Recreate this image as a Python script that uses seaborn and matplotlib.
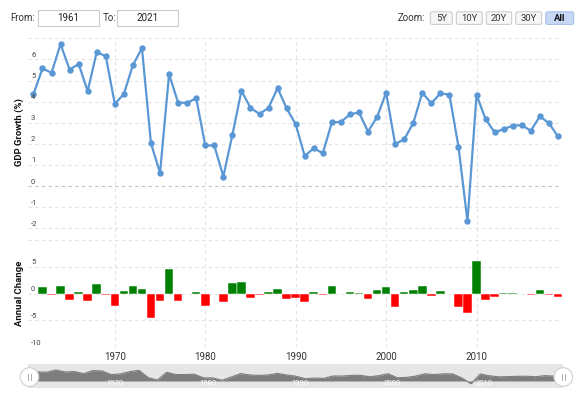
import numpy as np
import pandas as pd
import matplotlib
matplotlib.use("Agg")
import matplotlib.pyplot as plt
import seaborn as sns
from matplotlib.patches import FancyBboxPatch, Circle, Rectangle
from matplotlib.transforms import blended_transform_factory, offset_copy

# ---------------- data ----------------
years = list(range(1961, 2020))
gdp_growth = [4.34, 5.57, 5.37, 6.72, 5.52, 5.78, 4.50, 6.35, 6.15, 3.89,
              4.36, 5.73, 6.53, 2.02, 0.62, 5.30, 3.95, 3.94, 4.16, 1.92,
              1.92, 0.45, 2.42, 4.51, 3.71, 3.41, 3.71, 4.64, 3.68, 2.93,
              1.42, 1.79, 1.55, 3.02, 3.04, 3.39, 3.49, 2.58, 3.27, 4.42,
              1.99, 2.21, 2.98, 4.42, 3.92, 4.39, 4.33, 1.87, -1.68, 4.33,
              3.16, 2.55, 2.69, 2.86, 2.88, 2.62, 3.30, 2.98, 2.35]
change_years = list(range(1962, 2020))
annual_change = [1.23, -0.20, 1.35, -1.20, 0.26, -1.28, 1.85, -0.20, -2.26, 0.47,
                 1.37, 0.80, -4.51, -1.40, 4.68, -1.35, -0.01, 0.22, -2.24, 0.02,
                 -1.47, 1.97, 2.09, -0.80, -0.30, 0.30, 0.93, -0.96, -0.75, -1.51,
                 0.37, -0.24, 1.47, 0.02, 0.35, 0.10, -0.91, 0.69, 1.15, -2.43,
                 0.22, 0.77, 1.44, -0.50, 0.47, -0.06, -2.46, -3.55, 6.01, -1.17,
                 -0.61, 0.14, 0.17, 0.02, -0.26, 0.68, -0.32, -0.63]
direction = ["up" if v >= 0 else "down" for v in annual_change]

decades = [1970, 1980, 1990, 2000, 2010]
decade_labels = ["1970", "1980", "1990", "2000", "2010"]
gdp_ticks = [-2, -1, 0, 1, 2, 3, 4, 5, 6]
gdp_grid = [-2, -1, 0, 1, 2, 3, 4, 5, 6, 7]
chg_ticks = [-10, -5, 0, 5]
chg_grid = [-10, -5, 0, 5, 10]
zoom_buttons = ["5Y", "10Y", "20Y", "30Y", "All"]
from_year, to_year = "1961", "2021"

# ---------------- style ----------------
sns.set_theme(style="white")
plt.rcParams["font.family"] = ["Roboto", "DejaVu Sans"]

LINE = "#5a97d5"
GRID = "#e3e3e3"
TXT = "#333333"

W, H = 587, 393
fig = plt.figure(figsize=(W / 100, H / 100), dpi=100)


def rect(l, t, r, b):
    return [l / W, 1 - b / H, (r - l) / W, (b - t) / H]


ax1 = fig.add_axes(rect(28, 38.3, 562, 238))
ax2 = fig.add_axes(rect(28, 240, 562, 347.3))
ax3 = fig.add_axes(rect(28.3, 364, 563.3, 388))
ov = fig.add_axes([0, 0, 1, 1])
ov.set_xlim(0, W)
ov.set_ylim(H, 0)
ov.axis("off")
ov.set_zorder(10)

XLIM = (1960.4, 2019.45)

# ---------------- top panel ----------------
df = pd.DataFrame({"year": years, "gdp": gdp_growth})
for v in gdp_grid:
    ax1.axhline(v, color="#c4c4c4" if v == 0 else GRID, lw=0.8, ls=(0, (3, 3)), zorder=0)
for d in decades:
    ax1.axvline(d, color=GRID, lw=0.8, ls=(0, (3, 3)), zorder=0)
sns.lineplot(data=df, x="year", y="gdp", ax=ax1, color=LINE, lw=1.6,
             marker="o", markersize=4.6, markeredgewidth=0, zorder=3)
ax1.set_xlim(*XLIM)
ax1.set_ylim(7 - (238 - 38.3) / 21.1, 7)
ax1.set_xticks([])
ax1.set_yticks([])
ax1.set_xlabel("")
ax1.set_ylabel("")
for s in ax1.spines.values():
    s.set_visible(False)
tr1 = offset_copy(blended_transform_factory(ax1.transAxes, ax1.transData), fig=fig, x=3, y=1.5, units="dots")
for v in gdp_ticks:
    ax1.text(0, v, str(v), transform=tr1, ha="left", va="bottom", fontsize=5.5, color="#444444")

# ---------------- bottom panel ----------------
dfc = pd.DataFrame({"year": change_years, "change": annual_change, "dir": direction})
for v in chg_grid:
    ax2.axhline(v, color=GRID, lw=0.8, ls=(0, (3, 3)), zorder=0)
for d in decades:
    ax2.axvline(d, color=GRID, lw=0.8, ls=(0, (3, 3)), zorder=0)
sns.barplot(data=dfc, x="year", y="change", hue="dir", palette={"up": "#008000", "down": "#ff0000"},
            native_scale=True, dodge=False, width=0.95, edgecolor="white", linewidth=0.35,
            saturation=1, legend=False, ax=ax2, zorder=3)
ax2.set_xlim(*XLIM)
ax2.set_ylim(-10, 10)
ax2.set_yticks([])
ax2.set_xticks(decades)
ax2.set_xticklabels(decade_labels)
ax2.tick_params(axis="x", length=0, pad=3.5, labelsize=7, labelcolor=TXT)
ax2.set_xlabel("")
ax2.set_ylabel("")
for s in ax2.spines.values():
    s.set_visible(False)
tr2 = offset_copy(blended_transform_factory(ax2.transAxes, ax2.transData), fig=fig, x=3, y=1.5, units="dots")
for v in chg_ticks:
    ax2.text(0, v, str(v), transform=tr2, ha="left", va="bottom", fontsize=5.5, color="#444444")

# axis titles
ov.text(19, 132.5, "GDP Growth (%)", rotation=90, ha="center", va="center",
        fontsize=6.8, fontweight="bold", color="#111111")
ov.text(19, 293, "Annual Change", rotation=90, ha="center", va="center",
        fontsize=6.8, fontweight="bold", color="#111111")

# ---------------- navigator ----------------
ax3.set_facecolor("#e6e6e6")
ax3.fill_between(years, gdp_growth, 0, color="#7d7d7d", lw=0, zorder=2)
sns.lineplot(data=df, x="year", y="gdp", ax=ax3, color="#7d7d7d", lw=0.8, zorder=3)
ax3.set_xlim(1961, 2019)
ax3.set_ylim(-4.3, 10.4)
ax3.set_xticks([])
ax3.set_yticks([])
ax3.set_xlabel("")
ax3.set_ylabel("")
for s in ax3.spines.values():
    s.set_visible(False)
tr3 = offset_copy(blended_transform_factory(ax3.transData, ax3.transAxes), fig=fig, x=4, y=0, units="dots")
for d, lab in zip(decades, decade_labels):
    ax3.text(d, 0.2, lab, transform=tr3, ha="center", va="center", fontsize=5.5, color="white", zorder=4)

for cx in (29.5, 563.3):
    ov.add_patch(Circle((cx, 377), 9.3, facecolor="white", edgecolor="#d0d0d0", lw=0.8))
    for dx in (-1.3, 1.3):
        ov.plot([cx + dx, cx + dx], [373.8, 380.2], color="#aaaaaa", lw=0.7)

# ---------------- header controls ----------------
ov.text(10, 17.8, "From:", ha="left", va="center", fontsize=7, color=TXT)
ov.add_patch(Rectangle((38, 9.5), 61, 16.5, facecolor="white", edgecolor="#cccccc", lw=0.8))
ov.text(68.5, 17.8, from_year, ha="center", va="center", fontsize=7, color="#222222")
ov.text(102.5, 17.8, "To:", ha="left", va="center", fontsize=7, color=TXT)
ov.add_patch(Rectangle((117, 9.5), 61, 16.5, facecolor="white", edgecolor="#cccccc", lw=0.8))
ov.text(147.5, 17.8, to_year, ha="center", va="center", fontsize=7, color="#222222")

ov.text(425.5, 18.2, "Zoom:", ha="right", va="center", fontsize=7, color=TXT)
btn_x = [(429.3, 453.3), (455.3, 483.3), (485.3, 512.7), (514.7, 542.7), (544.7, 574.7)]
for (x0, x1), lab in zip(btn_x, zoom_buttons):
    sel = lab == "All"
    ov.add_patch(FancyBboxPatch((x0 + 1, 11.8), x1 - x0 - 2, 12.6,
                                boxstyle="round,pad=0,rounding_size=2",
                                facecolor="#c6d8f5" if sel else "#f7f7f7",
                                edgecolor="#a9c0e8" if sel else "#cccccc", lw=0.8))
    ov.text((x0 + x1) / 2, 18.2, lab, ha="center", va="center", fontsize=6.8,
            color="#111111" if sel else TXT, fontweight="bold" if sel else "normal")

fig.savefig("out.png", dpi=100)
